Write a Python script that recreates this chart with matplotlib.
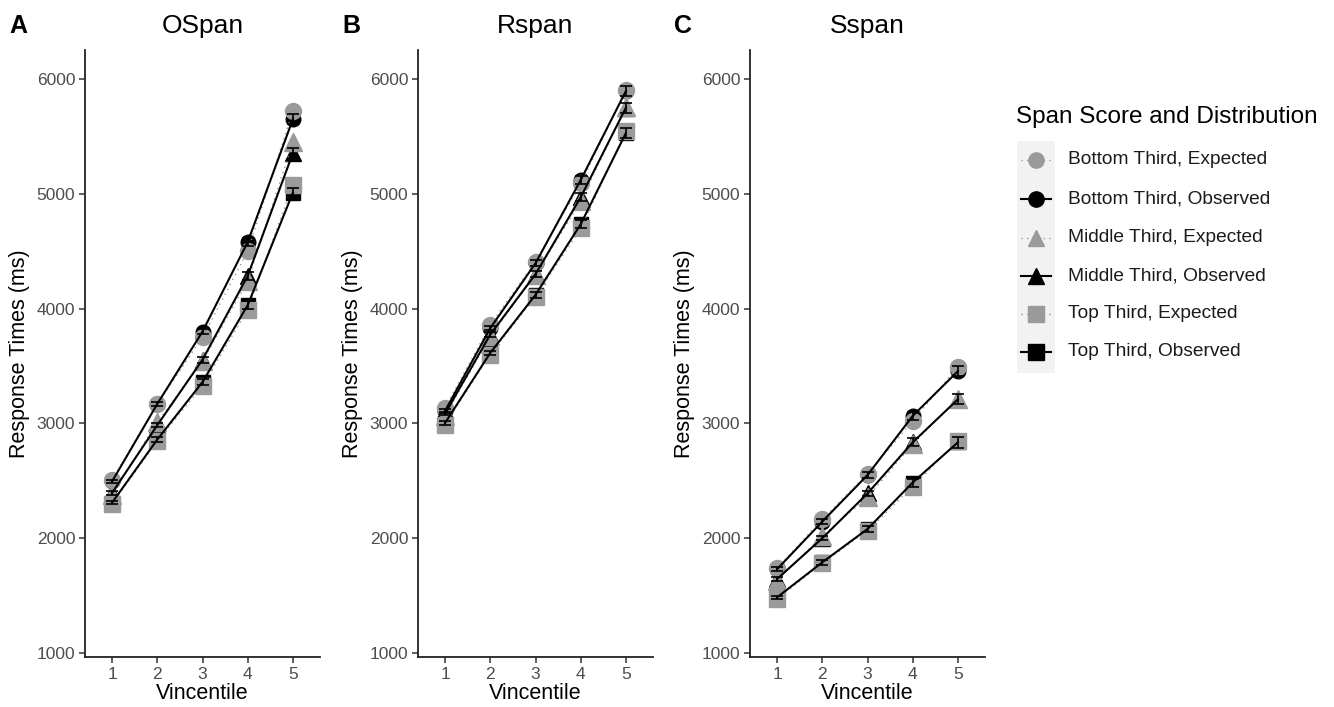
import matplotlib
matplotlib.use("Agg")
import matplotlib.pyplot as plt
from matplotlib.lines import Line2D
from matplotlib.patches import Rectangle
import numpy as np

plt.rcParams['font.family'] = ['Liberation Sans', 'DejaVu Sans']

vincentile = [1, 2, 3, 4, 5]
panels = ["OSpan", "Rspan", "Sspan"]
letters = ["A", "B", "C"]
groups = ["Bottom Third", "Middle Third", "Top Third"]
markers = ["o", "^", "s"]

# expected / observed response times (ms), per panel, per group
ospan_expected = {
    "Bottom Third": [2510, 3170, 3750, 4500, 5720],
    "Middle Third": [2380, 3010, 3540, 4240, 5450],
    "Top Third": [2300, 2845, 3330, 3990, 5080],
}
ospan_observed = {
    "Bottom Third": [2495, 3170, 3800, 4580, 5650],
    "Middle Third": [2395, 2985, 3555, 4285, 5355],
    "Top Third": [2310, 2860, 3360, 4030, 5010],
}
rspan_expected = {
    "Bottom Third": [3135, 3860, 4410, 5090, 5905],
    "Middle Third": [3065, 3760, 4295, 4935, 5760],
    "Top Third": [2990, 3600, 4105, 4700, 5545],
}
rspan_observed = {
    "Bottom Third": [3110, 3830, 4395, 5120, 5895],
    "Middle Third": [3085, 3775, 4300, 4970, 5750],
    "Top Third": [3005, 3615, 4120, 4735, 5530],
}
sspan_expected = {
    "Bottom Third": [1740, 2165, 2560, 3020, 3495],
    "Middle Third": [1630, 2020, 2355, 2820, 3215],
    "Top Third": [1470, 1780, 2065, 2450, 2850],
}
sspan_observed = {
    "Bottom Third": [1730, 2145, 2550, 3065, 3455],
    "Middle Third": [1645, 2000, 2390, 2835, 3210],
    "Top Third": [1485, 1790, 2080, 2485, 2835],
}
# standard errors of observed means (ms)
obs_se = [15, 20, 25, 35, 45]

expected = [ospan_expected, rspan_expected, sspan_expected]
observed = [ospan_observed, rspan_observed, sspan_observed]

GREY = "#9a9a9a"
W, H = 1334, 707
fig = plt.figure(figsize=(W / 100, H / 100), dpi=100)

lefts = [85, 418, 750]
for i, name in enumerate(panels):
    ax = fig.add_axes([lefts[i] / W, 1 - 657 / H, 235 / W, 607 / H])
    for g, m in zip(groups, markers):
        ms = 11.5 if m != "^" else 12.5
        ax.plot(vincentile, observed[i][g], marker=m, color="black", ms=ms - 1,
                lw=0, zorder=2)
        ax.plot(vincentile, expected[i][g], marker=m, color=GREY, ms=ms,
                lw=0, zorder=3)
        ax.plot(vincentile, expected[i][g], color=GREY, lw=1.0, ls=(0, (1, 3)),
                zorder=4)
        ax.plot(vincentile, observed[i][g], color="black", lw=1.5, zorder=4)
        ax.errorbar(vincentile, observed[i][g], yerr=obs_se, fmt="none",
                    ecolor="black", elinewidth=1.2, capsize=4.5, capthick=1.2,
                    zorder=5)
    ax.set_xlim(0.4, 5.6)
    ax.set_ylim(965, 6253)
    ax.set_xticks(vincentile)
    ax.set_yticks([1000, 2000, 3000, 4000, 5000, 6000])
    for s in ["top", "right"]:
        ax.spines[s].set_visible(False)
    for s in ["left", "bottom"]:
        ax.spines[s].set_linewidth(1.3)
        ax.spines[s].set_color("#222222")
    ax.tick_params(length=4, width=1.1, color="#333333", labelcolor="#4d4d4d",
                   labelsize=12.5, pad=3)
    ax.set_xlabel("Vincentile", fontsize=15.5, labelpad=1)
    ax.set_ylabel("Response Times (ms)", fontsize=15.5, labelpad=5)
    ax.set_title(name, fontsize=19, pad=12)
    fig.text((lefts[i] - 76) / W, 1 - 26 / H, letters[i], fontsize=18,
             fontweight="bold", va="center", ha="left")

# legend drawn by hand in pixel coordinates
lg = fig.add_axes([0, 0, 1, 1], zorder=10)
lg.set_xlim(0, W)
lg.set_ylim(H, 0)
lg.axis("off")
lg.patch.set_alpha(0)
lg.add_patch(Rectangle((1017, 141), 38, 232, color="#f2f2f2", lw=0))
lg.text(1016, 117, "Span Score and Distribution", fontsize=17.5, va="center",
        ha="left")
rows = [160, 199, 238, 276, 314, 352]
labels = []
for g in groups:
    labels.append(g + ", Expected")
    labels.append(g + ", Observed")
for k, y in enumerate(rows):
    m = markers[k // 2]
    if k % 2 == 0:
        lg.add_line(Line2D([1021, 1051], [y, y], color=GREY, lw=1.0,
                           ls=(0, (1, 3))))
        lg.add_line(Line2D([1036], [y], marker=m, color=GREY, ms=11))
    else:
        lg.add_line(Line2D([1021, 1051], [y, y], color="black", lw=1.5))
        lg.add_line(Line2D([1036], [y], marker=m, color="black", ms=11))
    lg.text(1068, y, labels[k], fontsize=13.8, va="center", ha="left",
            color="#1a1a1a")

fig.savefig("out.png", dpi=100)
